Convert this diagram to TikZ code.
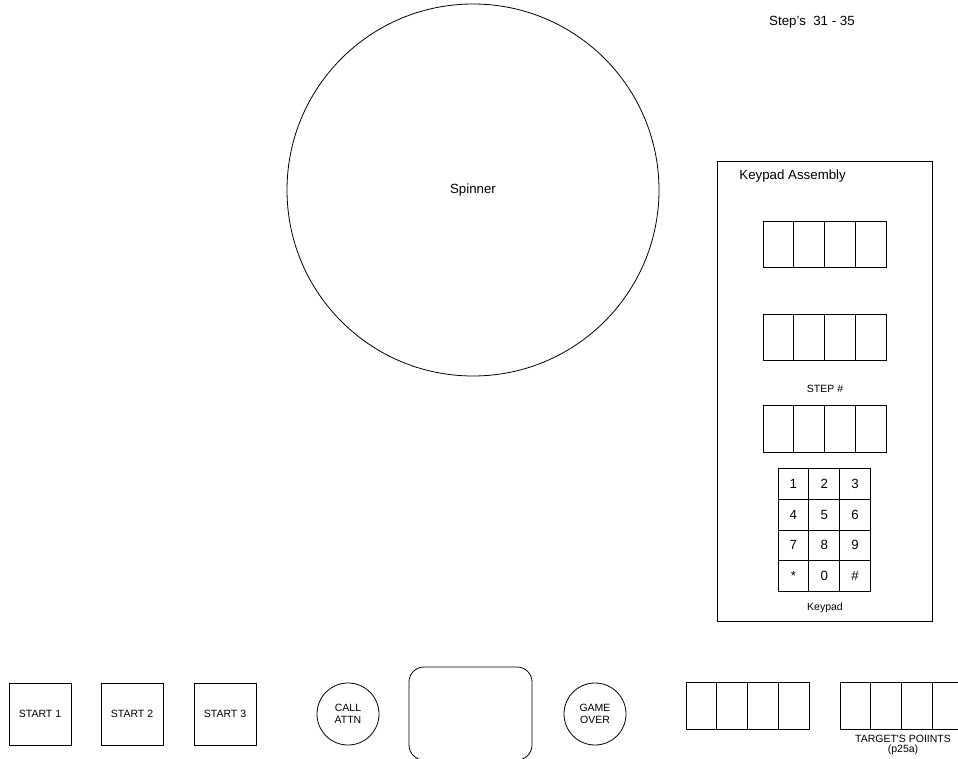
\documentclass[tikz,border=0pt]{standalone}
\usepackage{fontspec}
\setmainfont{Liberation Sans}
\begin{document}
\begin{tikzpicture}[x=1pt,y=-1pt, line width=0.8pt,
 big/.style={font=\fontsize{13.3}{15}\selectfont},
 small/.style={font=\fontsize{10.5}{12}\selectfont},
 cell/.style={draw, minimum width=30.8pt, minimum height=46.5pt, inner sep=0pt, outer sep=0pt},
 key/.style={draw, minimum width=30.8pt, minimum height=30.8pt, inner sep=0pt, outer sep=0pt, big},
 btn/.style={draw, minimum size=62pt, inner sep=0pt, small},
 roundbtn/.style={draw, circle, minimum size=62pt, inner sep=0pt, small, align=center}]
\useasboundingbox (0,0) rectangle (958,759);
\clip (0,0) rectangle (958,759);

% title
\node[big] (title) at (812,22) {Step’s\ \ 31 - 35};

% spinner
\node[draw, circle, minimum size=372pt, inner sep=0pt, big] (spinner) at (473,190) {Spinner};

% keypad assembly
\node[draw, minimum width=215pt, minimum height=460pt, inner sep=0pt] (assembly) at (824.5,391) {};
\node[big, anchor=west, inner sep=0pt] (asmlabel) at (739,176) {Keypad Assembly};

\foreach \i in {0,...,3} {
  \node[cell] (da\i) at (778.4+30.8*\i,244.5) {};
  \node[cell] (db\i) at (778.4+30.8*\i,337.5) {};
  \node[cell] (dc\i) at (778.4+30.8*\i,429) {};
}
\node[small] (steplabel) at (825,389) {STEP \#};

% keypad
\foreach \r/\a/\b/\c in {0/1/2/3, 1/4/5/6, 2/7/8/9, 3/*/0/\#} {
  \node[key] (k\r a) at (793.4,483.7+30.8*\r) {\a};
  \node[key] (k\r b) at (824.2,483.7+30.8*\r) {\b};
  \node[key] (k\r c) at (855.0,483.7+30.8*\r) {\c};
}
\node[small] (keypadlabel) at (825,608) {Keypad};

% bottom row
\node[btn] (start1) at (40,714) {START 1};
\node[btn] (start2) at (132,714) {START 2};
\node[btn] (start3) at (225,714) {START 3};
\node[roundbtn] (callattn) at (348,714) {CALL\\ATTN};
\node[draw, rounded corners=15pt, minimum width=123pt, minimum height=93pt, inner sep=0pt] (screen) at (470.5,713.5) {};
\node[roundbtn] (gameover) at (595,714) {GAME\\OVER};

\foreach \i in {0,...,3} {
  \node[cell] (ba\i) at (701.4+30.8*\i,706) {};
  \node[cell] (bb\i) at (855.4+30.8*\i,706) {};
}
\node[small, align=center, inner sep=0pt] (targetlabel) at (903,745) {TARGET\textquotesingle S POIINTS\\[-1.5pt](p25a)};
\end{tikzpicture}
\end{document}
